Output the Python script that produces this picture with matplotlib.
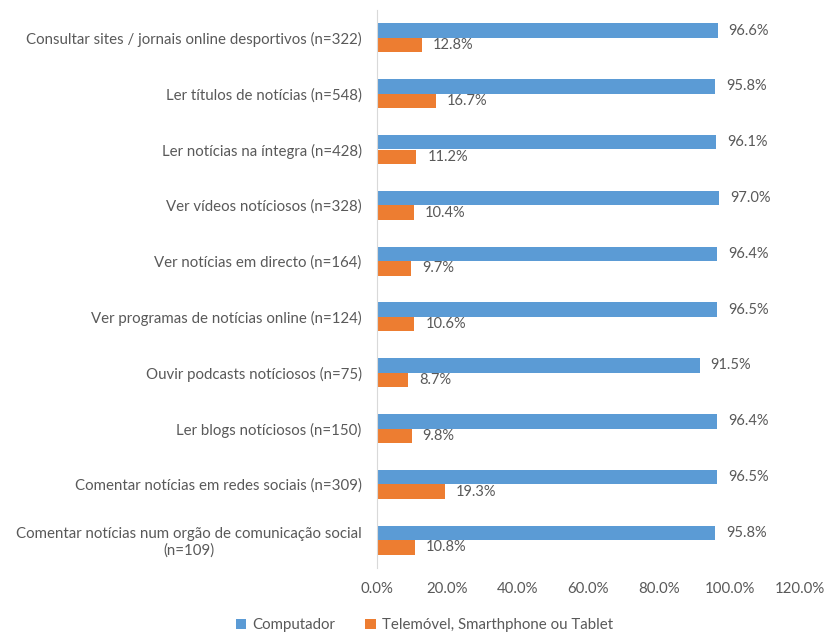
import numpy as np
import matplotlib.pyplot as plt
from matplotlib.ticker import FuncFormatter

plt.rcParams['font.family'] = ['Lato', 'DejaVu Sans']

categories = [
    'Consultar sites / jornais online desportivos (n=322)',
    'Ler títulos de notícias (n=548)',
    'Ler notícias na íntegra (n=428)',
    'Ver vídeos notíciosos (n=328)',
    'Ver notícias em directo (n=164)',
    'Ver programas de notícias online (n=124)',
    'Ouvir podcasts notíciosos (n=75)',
    'Ler blogs notíciosos (n=150)',
    'Comentar notícias em redes sociais (n=309)',
    'Comentar notícias num orgão de comunicação social\n(n=109)',
]
computador = [96.6, 95.8, 96.1, 97.0, 96.4, 96.5, 91.5, 96.4, 96.5, 95.8]
movel = [12.8, 16.7, 11.2, 10.4, 9.7, 10.6, 8.7, 9.8, 19.3, 10.8]

blue = '#5b9bd5'
orange = '#ed7d31'
grey = '#595959'

fig = plt.figure(figsize=(8.27, 6.32), dpi=100)
ax = fig.add_axes([377 / 827, 1 - 568 / 632, (800 - 377) / 827, (568 - 10) / 632])

y = np.arange(len(categories))
h = 0.26
bars_c = ax.barh(y - h / 2, computador, height=h, color=blue, label='Computador')
bars_m = ax.barh(y + h / 2, movel, height=h, color=orange, label='Telemóvel, Smarthphone ou Tablet')

for bars, vals in ((bars_c, computador), (bars_m, movel)):
    for b, v in zip(bars, vals):
        ax.annotate(f'{v:.1f}%', (b.get_width(), b.get_y() + b.get_height() / 2),
                    xytext=(8, 0), textcoords='offset points', va='center', ha='left',
                    fontsize=10.5, color=grey)

ax.set_xlim(0, 120)
ax.set_ylim(len(categories) - 0.5, -0.5)
ax.set_xticks(np.arange(0, 121, 20))
ax.xaxis.set_major_formatter(FuncFormatter(lambda v, p: f'{v:.1f}%'))
ax.set_yticks(y)
ax.set_yticklabels(categories, ha='right', multialignment='center')
ax.tick_params(axis='y', length=0, pad=11, labelsize=10.8, labelcolor=grey)
ax.tick_params(axis='x', length=0, pad=10, labelsize=10.8, labelcolor=grey)
for s in ('top', 'right', 'bottom'):
    ax.spines[s].set_visible(False)
ax.spines['left'].set_color('#d9d9d9')

fig.legend(loc='lower center', bbox_to_anchor=(0.513, -0.022), ncol=2, frameon=False,
           fontsize=10.8, labelcolor=grey, handlelength=0.7, handleheight=0.7,
           handletextpad=0.4, columnspacing=2.0)

fig.savefig('out.png', dpi=100)
